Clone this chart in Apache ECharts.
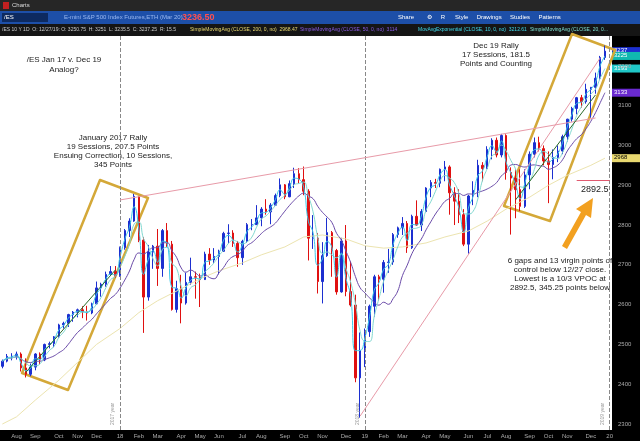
<!DOCTYPE html>
<html>
<head>
<meta charset="utf-8">
<script src="https://cdn.jsdelivr.net/npm/echarts@6/dist/echarts.min.js"></script>
<style>html,body{margin:0;padding:0;background:#000}#main{width:640px;height:441px}</style>
</head>
<body>
<div id="main"></div>
<script>
// 周K线数据 [date, open, close, low, high]
var weeks = [
['2017-07-14',2445,2458,2440,2462],['2017-07-21',2458,2470,2455,2476],['2017-07-28',2470,2470,2460,2478],
['2017-08-04',2470,2476,2462,2482],['2017-08-11',2476,2441,2432,2480],['2017-08-18',2441,2425,2417,2465],['2017-08-25',2425,2443,2420,2452],
['2017-09-01',2443,2476,2435,2478],['2017-09-08',2476,2461,2450,2480],['2017-09-15',2461,2500,2458,2502],['2017-09-22',2500,2502,2490,2507],
['2017-09-29',2502,2519,2493,2521],['2017-10-06',2519,2549,2517,2552],['2017-10-13',2549,2553,2540,2557],['2017-10-20',2553,2575,2544,2577],
['2017-10-27',2575,2581,2557,2584],['2017-11-03',2581,2587,2568,2590],['2017-11-10',2587,2582,2566,2596],['2017-11-17',2582,2579,2560,2597],
['2017-11-24',2579,2602,2576,2605],['2017-12-01',2602,2642,2600,2658],['2017-12-08',2642,2651,2620,2655],['2017-12-15',2651,2676,2645,2683],
['2017-12-22',2676,2683,2672,2697],['2017-12-29',2683,2673,2668,2697],['2018-01-05',2673,2743,2670,2746],['2018-01-12',2743,2786,2738,2790],
['2018-01-19',2786,2810,2770,2817],['2018-01-26',2810,2872,2808,2878],['2018-02-02',2872,2762,2757,2873],['2018-02-09',2762,2619,2529,2770],
['2018-02-16',2619,2732,2610,2750],['2018-02-23',2732,2747,2690,2750],['2018-03-02',2747,2691,2647,2790],['2018-03-09',2691,2786,2670,2790],
['2018-03-16',2786,2752,2745,2805],['2018-03-23',2752,2588,2585,2760],['2018-03-30',2588,2640,2580,2660],['2018-04-06',2640,2604,2553,2675],
['2018-04-13',2604,2656,2600,2680],['2018-04-20',2656,2670,2650,2718],['2018-04-27',2670,2669,2615,2683],['2018-05-04',2669,2663,2594,2678],
['2018-05-11',2663,2727,2662,2733],['2018-05-18',2727,2712,2700,2742],['2018-05-25',2712,2721,2705,2742],['2018-06-01',2721,2734,2676,2738],
['2018-06-08',2734,2779,2733,2783],['2018-06-15',2779,2780,2754,2802],['2018-06-22',2780,2754,2745,2787],['2018-06-29',2754,2718,2695,2760],
['2018-07-06',2718,2759,2700,2763],['2018-07-13',2759,2801,2755,2805],['2018-07-20',2801,2801,2787,2815],['2018-07-27',2801,2818,2805,2850],
['2018-08-03',2818,2840,2797,2845],['2018-08-10',2840,2833,2826,2865],['2018-08-17',2833,2850,2802,2855],['2018-08-24',2850,2874,2848,2879],
['2018-08-31',2874,2901,2870,2917],['2018-09-07',2901,2871,2865,2903],['2018-09-14',2871,2904,2870,2912],['2018-09-21',2904,2929,2893,2944],
['2018-09-28',2929,2914,2905,2943],['2018-10-05',2914,2885,2875,2947],['2018-10-12',2885,2767,2711,2890],['2018-10-19',2767,2767,2740,2825],
['2018-10-26',2767,2658,2628,2780],['2018-11-02',2658,2723,2603,2757],['2018-11-09',2723,2781,2720,2818],['2018-11-16',2781,2736,2670,2785],
['2018-11-23',2736,2632,2625,2740],['2018-11-30',2632,2760,2630,2768],['2018-12-07',2760,2633,2621,2800],['2018-12-14',2633,2599,2595,2708],
['2018-12-21',2599,2416,2405,2625],['2018-12-28',2416,2485,2316,2530],['2019-01-04',2485,2532,2443,2540],['2019-01-11',2532,2596,2519,2600],
['2019-01-18',2596,2670,2570,2675],['2019-01-25',2670,2664,2610,2675],['2019-02-01',2664,2706,2630,2712],['2019-02-08',2706,2707,2680,2740],
['2019-02-15',2707,2776,2700,2780],['2019-02-22',2776,2793,2768,2796],['2019-03-01',2793,2804,2775,2820],['2019-03-08',2804,2743,2730,2810],
['2019-03-15',2743,2822,2740,2826],['2019-03-22',2822,2800,2798,2862],['2019-03-29',2800,2834,2785,2840],['2019-04-05',2834,2893,2832,2895],
['2019-04-12',2893,2907,2870,2913],['2019-04-18',2907,2905,2893,2916],['2019-04-26',2905,2940,2895,2942],['2019-05-03',2940,2946,2910,2961],
['2019-05-10',2946,2881,2826,2950],['2019-05-17',2881,2860,2800,2895],['2019-05-24',2860,2826,2805,2890],['2019-05-31',2826,2752,2747,2840],
['2019-06-07',2752,2873,2728,2876],['2019-06-14',2873,2887,2850,2910],['2019-06-21',2887,2950,2870,2964],['2019-06-28',2950,2942,2910,2958],
['2019-07-05',2942,2990,2950,2998],['2019-07-12',2990,3013,2965,3018],['2019-07-19',3013,2976,2970,3020],['2019-07-26',2976,3025,2970,3029],
['2019-08-02',3025,2932,2914,3028],['2019-08-09',2932,2918,2776,2945],['2019-08-16',2918,2889,2817,2940],['2019-08-23',2889,2847,2835,2940],
['2019-08-30',2847,2926,2843,2940],['2019-09-06',2926,2978,2890,2985],['2019-09-13',2978,3007,2970,3020],['2019-09-20',3007,2992,2985,3022],
['2019-09-27',2992,2961,2950,3000],['2019-10-04',2961,2952,2855,2985],['2019-10-11',2952,2970,2915,2990],['2019-10-18',2970,2986,2958,3000],
['2019-10-25',2986,3022,2978,3027],['2019-11-01',3022,3066,3010,3067],['2019-11-08',3066,3093,3060,3097],['2019-11-15',3093,3120,3078,3122],
['2019-11-22',3120,3110,3095,3127],['2019-11-29',3110,3141,3105,3155],['2019-12-06',3141,3146,3070,3147],['2019-12-13',3146,3169,3130,3183],
['2019-12-20',3169,3221,3165,3225],['2019-12-27',3221,3237,3215,3251]
];
var padDates = ['2020-01-03'];
// 200日均线（从图中读取的月度值）
var sma200 = [
['2017-07-14',2300],['2017-08-04',2318],['2017-09-01',2360],['2017-10-06',2410],['2017-11-03',2455],['2017-12-01',2500],['2018-01-05',2540],
['2018-02-02',2580],['2018-03-02',2610],['2018-04-06',2640],['2018-05-04',2665],['2018-06-01',2685],['2018-07-06',2705],
['2018-08-03',2725],['2018-09-07',2745],['2018-10-05',2770],['2018-11-02',2775],['2018-12-07',2765],['2019-01-04',2748],
['2019-02-01',2742],['2019-03-01',2745],['2019-04-05',2755],['2019-05-03',2770],['2019-06-07',2785],['2019-07-05',2810],
['2019-08-02',2840],['2019-09-06',2870],['2019-10-04',2900],['2019-11-01',2925],['2019-12-06',2950],['2019-12-27',2968]
];
var yTicks = [2300,2400,2500,2600,2700,2800,2900,3000,3100,3200];
var monthNames = ['Jan','Feb','Mar','Apr','May','Jun','Jul','Aug','Sep','Oct','Nov','Dec'];

var dates = weeks.map(function(w){ return w[0]; }).concat(padDates);
var closes = weeks.map(function(w){ return w[2]; });

function sma(n){
    return closes.map(function(c, i){
        var s = 0, k = 0;
        for (var j = Math.max(0, i - n + 1); j <= i; j++){ s += closes[j]; k++; }
        return +(s / k).toFixed(2);
    });
}
function ema(n){
    var a = 2 / (n + 1), out = [], p = closes[0];
    closes.forEach(function(c){ p = p + a * (c - p); out.push(+p.toFixed(2)); });
    return out;
}
var ma50 = sma(10), ma20 = sma(4), ema10 = ema(2);

var myChart = echarts.init(document.getElementById('main'));
var font = 'Liberation Sans';

// 每月第一周显示月份标签（7月不显示）
function monthLabelShow(idx){
    if (idx === 0) return false;
    return dates[idx].substring(5,7) !== dates[idx-1].substring(5,7);
}

var option = {
    backgroundColor: '#000',
    animation: false,
    grid: { left: 0, right: 28, top: 36, bottom: 11, show: true, backgroundColor: '#fff', borderWidth: 0, outerBoundsMode: 'none', containLabel: false },
    xAxis: {
        type: 'category', data: dates, boundaryGap: true,
        axisLine: { show: false }, axisTick: { show: false }, splitLine: { show: false },
        axisLabel: {
            interval: function(i){ return monthLabelShow(i); },
            formatter: function(v){
                var m = parseInt(v.substring(5,7), 10);
                return m === 1 ? v.substring(2,4) : monthNames[m-1];
            },
            color: '#aaa', fontSize: 6, fontFamily: font, margin: 3
        }
    },
    yAxis: {
        type: 'value', position: 'right', min: 2285, max: 3275, scale: true,
        splitLine: { show: false }, axisLine: { show: false },
        axisTick: { show: false },
        axisLabel: { customValues: yTicks, formatter: function(v){ return String(v); }, color: '#aaa', fontSize: 6, fontFamily: font, margin: 6 }
    },
    series: [
        {
            type: 'candlestick', name: '/ES',
            data: weeks.map(function(w){ return [w[1], w[2], w[3], w[4]]; }),
            barWidth: 2,
            itemStyle: { color: '#1c2fd0', color0: '#e01010', borderColor: '#1c2fd0', borderColor0: '#e01010', borderWidth: 1 },
            markLine: {
                symbol: 'none', silent: true,
                label: { show: true, position: 'insideStartTop', color: '#999', fontSize: 5, fontFamily: font },
                lineStyle: { color: '#888', type: 'dashed', width: 1 },
                data: [
                    { xAxis: '2018-01-05', label: { formatter: '2017 year' } },
                    { xAxis: '2019-01-04', label: { formatter: '2018 year' } },
                    { xAxis: '2020-01-03', label: { formatter: '2019 year' } },
                    [ { coord: ['2018-01-05', 2863], lineStyle: { color: '#e89aa8', type: 'solid' }, label: { show: false } },
                      { coord: ['2019-12-13', 3069] } ],
                    [ { coord: ['2018-12-28', 2320], lineStyle: { color: '#e89aa8', type: 'solid' }, label: { show: false } },
                      { coord: ['2019-12-20', 3220] } ],
                    [ { coord: ['2019-11-15', 2913], lineStyle: { color: '#e05a70', type: 'solid' }, label: { show: false } },
                      { coord: ['2020-01-03', 2913] } ],
                    [ { coord: ['2017-08-18', 2430], lineStyle: { color: '#2a6a2a', type: 'solid' }, label: { show: false } },
                      { coord: ['2017-12-29', 2687] } ],
                    [ { coord: ['2019-08-16', 2863], lineStyle: { color: '#2a6a2a', type: 'solid' }, label: { show: false } },
                      { coord: ['2019-12-13', 3127] } ]
                ]
            }
        },
        { type: 'line', name: 'SMA200', data: sma200, showSymbol: false, lineStyle: { color: '#ece4b0', width: 1 } },
        { type: 'line', name: 'SMA50', data: ma50, showSymbol: false, smooth: true, lineStyle: { color: '#6a4aa8', width: 1 } },
        { type: 'line', name: 'SMA20', data: ma20, showSymbol: false, smooth: true, lineStyle: { color: '#7fd8d0', width: 1 } },
        { type: 'line', name: 'EMA10', data: ema10, showSymbol: false, smooth: true, lineStyle: { color: '#3cc8e8', width: 1 } }
    ]
};
myChart.setOption(option);

// 右侧价格标签
function yPix(v){ return myChart.convertToPixel({ yAxisIndex: 0 }, v); }
var last = closes.length - 1;
var badges = [
    [closes[last], '#1c2fd0', '#fff'],
    [ma20[last], '#20c8c8', '#fff'],
    [ema10[last], '#10b8b0', '#fff'],
    [ma50[last], '#6a2ad0', '#fff'],
    [sma200[sma200.length-1][1], '#e8d870', '#000']
];
var g = [];
badges.forEach(function(b){
    var y = yPix(b[0]);
    g.push({ type: 'rect', shape: { x: 612, y: y - 4, width: 28, height: 8 }, style: { fill: b[1] } });
    g.push({ type: 'text', x: 614, y: y - 3.5, style: { text: String(Math.round(b[0])), fill: b[2], font: '6px ' + font } });
});
// 顶部工具栏
g = g.concat([
    { type: 'rect', shape: { x: 0, y: 0, width: 640, height: 11 }, style: { fill: '#262626' } },
    { type: 'rect', shape: { x: 3, y: 2, width: 6, height: 7 }, style: { fill: '#c02020' } },
    { type: 'text', x: 12, y: 2, style: { text: 'Charts', fill: '#ddd', font: '6px ' + font } },
    { type: 'rect', shape: { x: 0, y: 11, width: 640, height: 13 }, style: { fill: '#1d4fa8' } },
    { type: 'rect', shape: { x: 2, y: 13, width: 46, height: 9 }, style: { fill: '#0d2a60' } },
    { type: 'text', x: 4, y: 14.5, style: { text: '/ES', fill: '#fff', font: '6px ' + font } },
    { type: 'text', x: 64, y: 14.5, style: { text: 'E-mini S&P 500 Index Futures,ETH (Mar 20)', fill: '#9ab8f0', font: '6px ' + font } },
    { type: 'text', x: 182, y: 13, style: { text: '3236.50', fill: '#ff5050', font: 'bold 9px ' + font } },
    { type: 'text', x: 398, y: 14.5, style: { text: 'Share        \u2699     R      Style     Drawings     Studies     Patterns', fill: '#fff', font: '6px ' + font } },
    { type: 'rect', shape: { x: 0, y: 24, width: 640, height: 12 }, style: { fill: '#151515' } },
    { type: 'text', x: 2, y: 27, style: { text: '/ES 10 Y 1D  O: 12/27/19: O: 3250.75  H: 3251  L: 3235.5  C: 3237.25  R: 15.5', fill: '#ccc', font: '5px ' + font } },
    { type: 'text', x: 190, y: 27, style: { text: 'SimpleMovingAvg (CLOSE, 200, 0, no)  2968.47', fill: '#e8d870', font: '5px ' + font } },
    { type: 'text', x: 300, y: 27, style: { text: 'SimpleMovingAvg (CLOSE, 50, 0, no)  3114', fill: '#8a5ae0', font: '5px ' + font } },
    { type: 'text', x: 418, y: 27, style: { text: 'MovAvgExponential (CLOSE, 10, 0, no)  3212.61', fill: '#40d8e8', font: '5px ' + font } },
    { type: 'text', x: 530, y: 27, style: { text: 'SimpleMovingAvg (CLOSE, 20, 0...', fill: '#7fe0d0', font: '5px ' + font } },
    // 注释框
    { type: 'polygon', shape: { points: [[100,180],[148,198],[68,390],[22,373]] }, style: { fill: 'none', stroke: '#d4a838', lineWidth: 2.5, lineJoin: 'round' } },
    { type: 'polygon', shape: { points: [[572,34],[615,50],[550,221],[504,206]] }, style: { fill: 'none', stroke: '#d4a838', lineWidth: 2.5, lineJoin: 'round' } },
    // 箭头
    { type: 'polygon', shape: { points: [[562,246],[581,212],[576,209],[593,198],[591,218],[586,215],[567,249]] }, style: { fill: '#f2a020' } },
    // 文字
    { type: 'text', x: 64, y: 55, style: { text: '/ES Jan 17 v. Dec 19\nAnalog?', align: 'center', fill: '#222', font: '8px ' + font, lineHeight: 10 } },
    { type: 'text', x: 113, y: 133, style: { text: 'January 2017 Rally\n19 Sessions, 207.5 Points\nEnsuing Correction, 10 Sessions,\n345 Points', align: 'center', fill: '#222', font: '8px ' + font, lineHeight: 9 } },
    { type: 'text', x: 496, y: 41, style: { text: 'Dec 19 Rally\n17 Sessions, 181.5\nPoints and Counting', align: 'center', fill: '#222', font: '8px ' + font, lineHeight: 9 } },
    { type: 'text', x: 581, y: 185, style: { text: '2892.5', fill: '#222', font: '9px ' + font } },
    { type: 'text', x: 560, y: 256, style: { text: '6 gaps and 13 virgin points of\ncontrol below 12/27 close.\nLowest is a 10/3 VPOC at\n2892.5, 345.25 points below', align: 'center', fill: '#222', font: '8px ' + font, lineHeight: 9 } }
]);
myChart.setOption({ graphic: g });
</script>
</body>
</html>
